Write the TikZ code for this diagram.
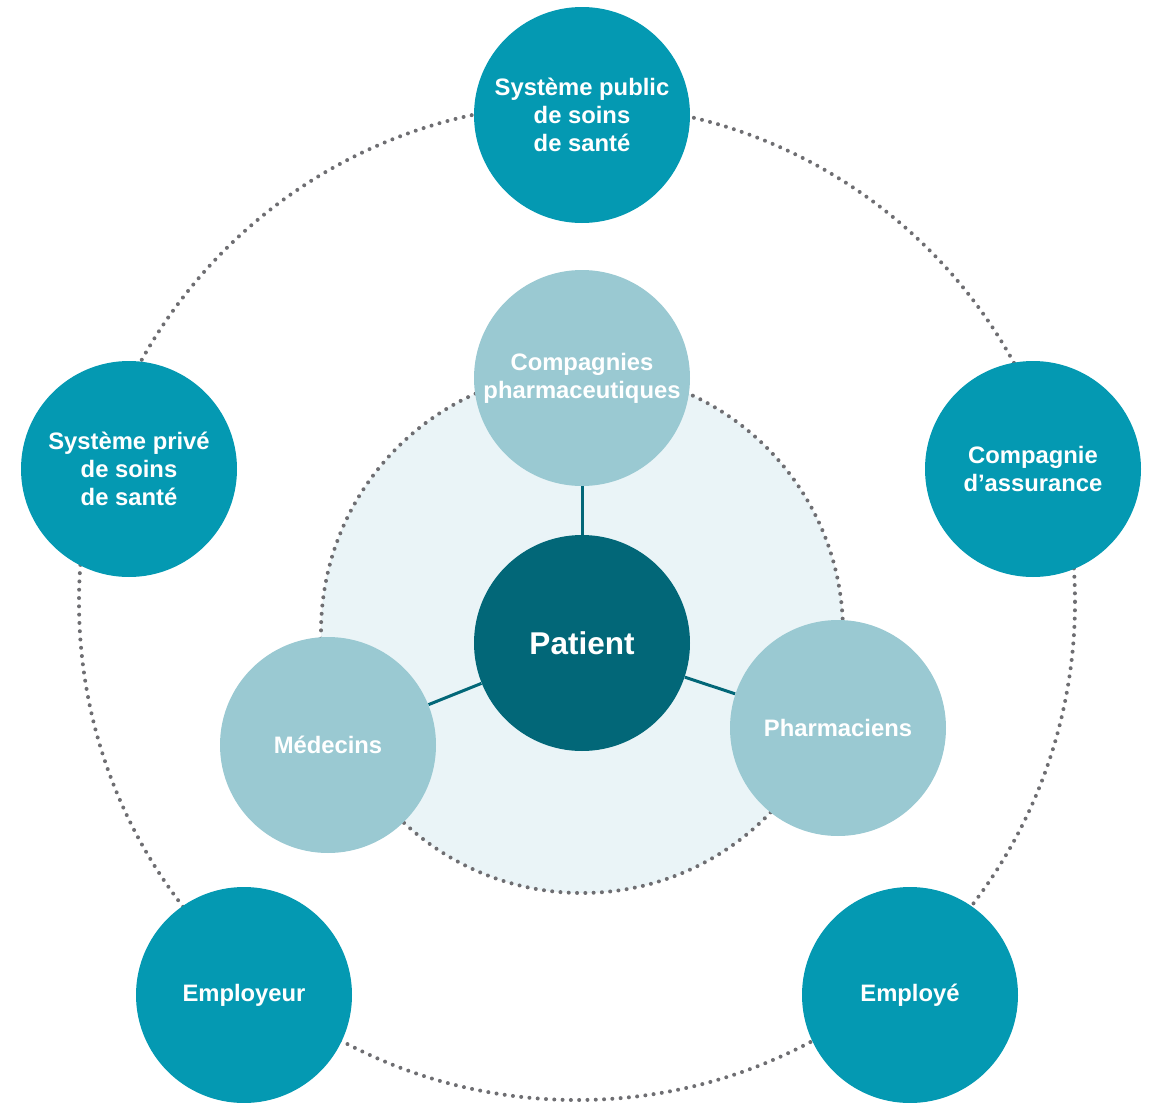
\documentclass[tikz,border=0pt]{standalone}
\usepackage{fontspec}
\setmainfont{Liberation Sans}
\definecolor{bleuext}{RGB}{4,153,178}
\definecolor{bleuclair}{RGB}{154,201,210}
\definecolor{bleufonce}{RGB}{2,103,120}
\definecolor{fondint}{RGB}{234,244,247}
\definecolor{gristrait}{RGB}{110,110,114}
\tikzset{
  pointille/.style={draw=gristrait, line width=2pt, line cap=round, dash pattern=on 0pt off 4.15pt},
  bulle/.style={circle, minimum size=108pt, inner sep=0pt, text=white, align=center,
    font=\bfseries\fontsize{11.9}{14}\selectfont},
  externe/.style={bulle, fill=bleuext},
  interne/.style={bulle, fill=bleuclair},
  lien/.style={draw=bleufonce, line width=1.5pt}
}
\begin{document}
\begin{tikzpicture}[x=0.5pt, y=-0.5pt]
    \useasboundingbox (0,0) rectangle (1153,1103);

    % 1. Cercles pointillés
    \draw[pointille] (577,602) circle[radius=498];
    \draw[pointille, fill=fondint] (582,632) circle[radius=261];

    % 2. Acteurs extérieurs
    \node[externe] (public) at (582,115) {Système public\\de soins\\de santé};
    \node[externe] (prive) at (129,469) {Système privé\\de soins\\de santé};
    \node[externe] (assurance) at (1033,469) {Compagnie\\d’assurance};
    \node[externe] (employeur) at (244,995) {Employeur};
    \node[externe] (employe) at (910,995) {Employé};

    % 3. Acteurs intérieurs
    \node[interne] (compagnies) at (582,378) {Compagnies\\pharmaceutiques};
    \node[interne] (medecins) at (328,745) {Médecins};
    \node[interne] (pharmaciens) at (838,728) {Pharmaciens};

    % 4. Patient au centre
    \node[bulle, fill=bleufonce, font=\bfseries\fontsize{15.75}{18}\selectfont] (patient) at (582,643) {Patient};
    \foreach \cible in {compagnies,medecins,pharmaciens} {
        \draw[lien] (patient) -- (\cible);
    }
\end{tikzpicture}
\end{document}
